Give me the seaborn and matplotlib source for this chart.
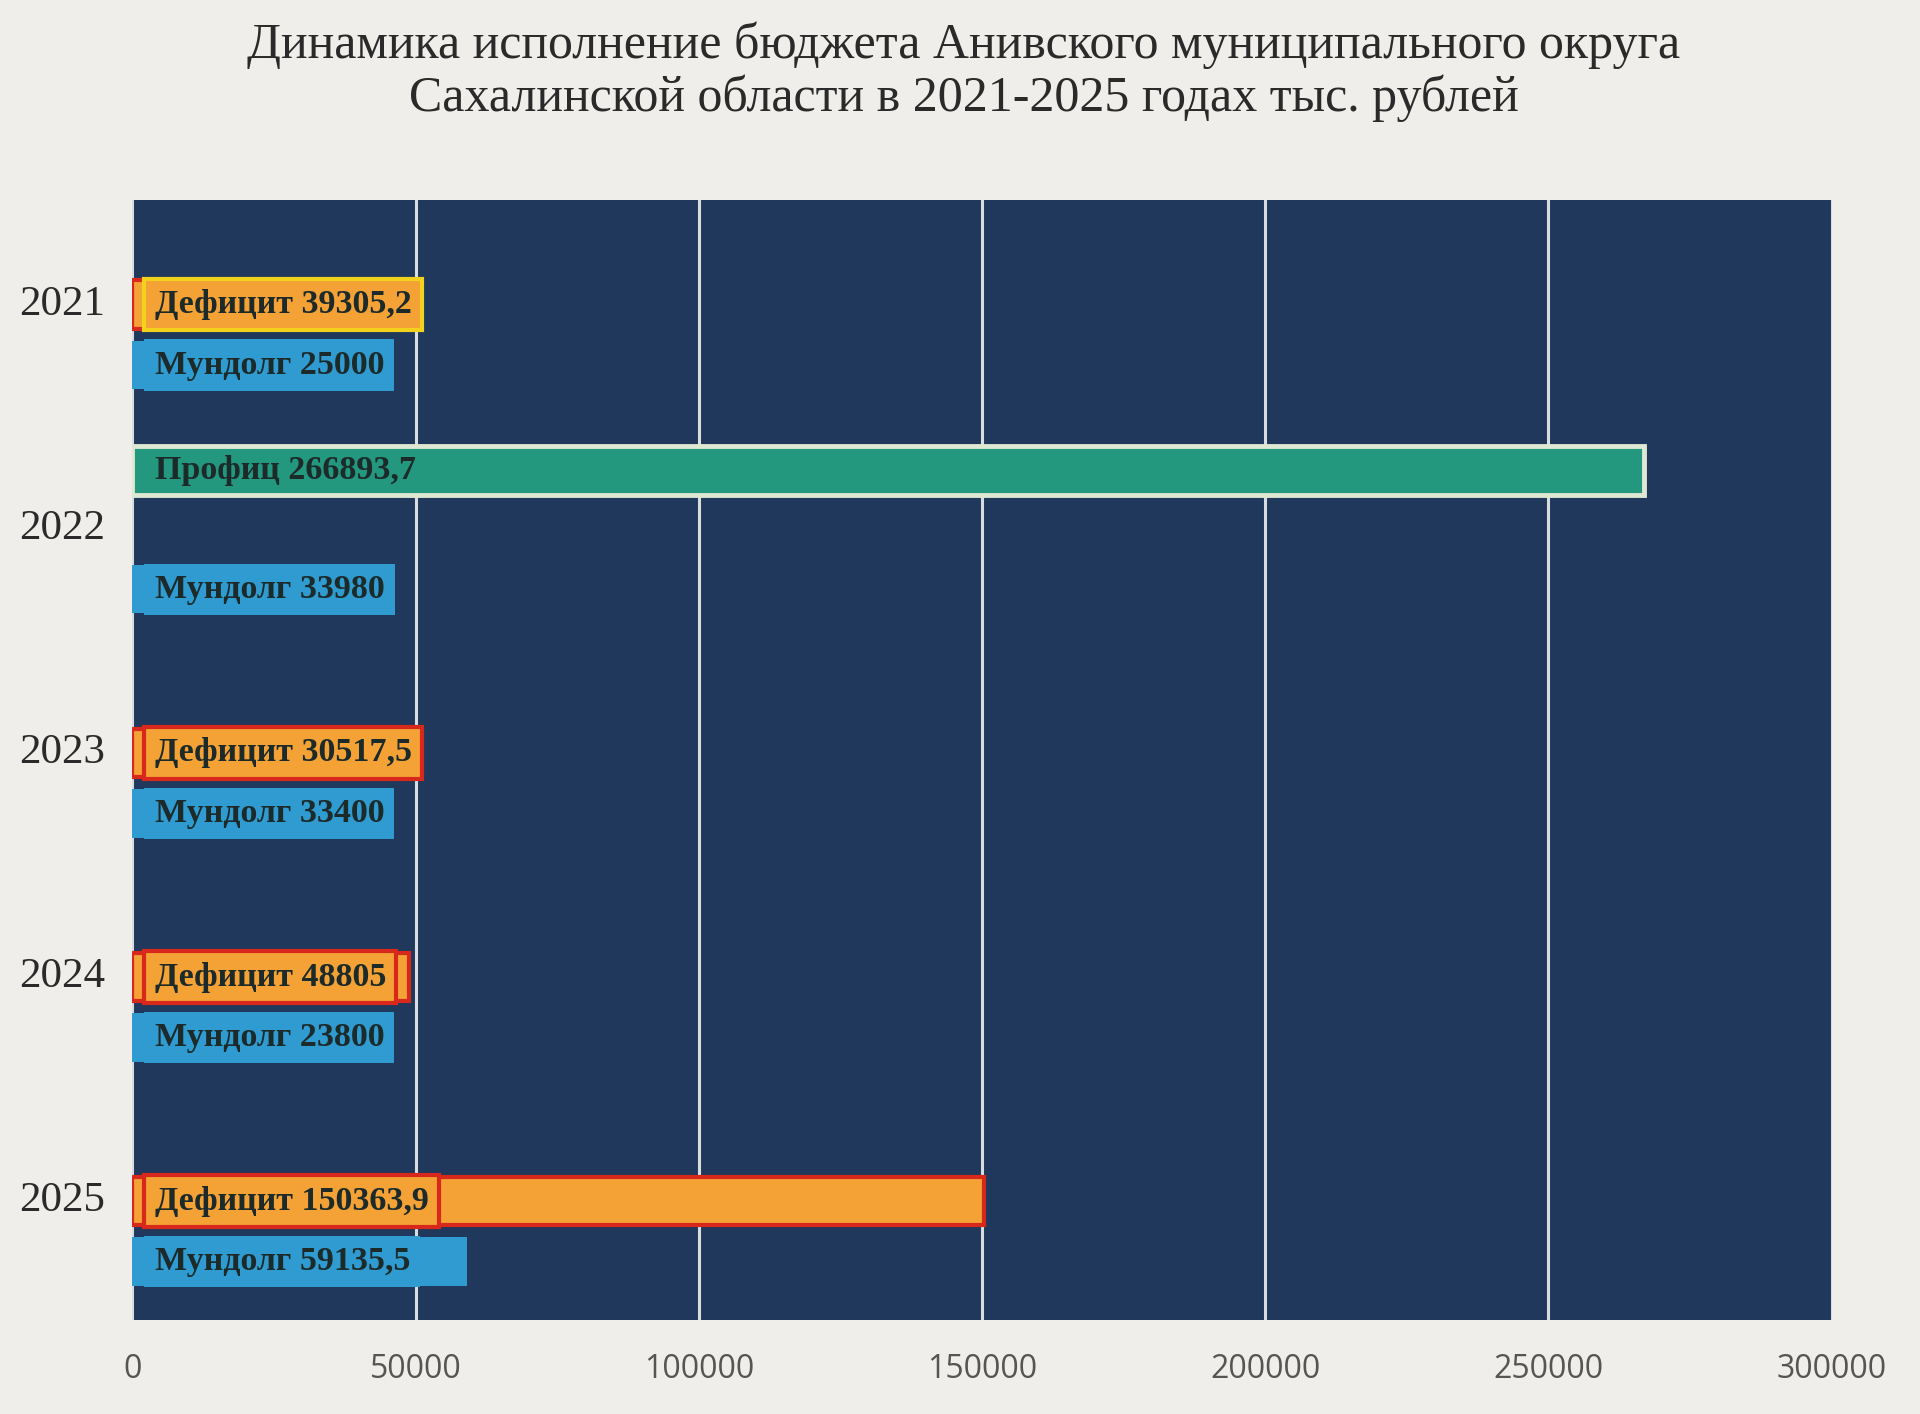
import numpy as np
import pandas as pd
import matplotlib.pyplot as plt
import seaborn as sns

# data (тыс. рублей)
years = ["2021", "2022", "2023", "2024", "2025"]
deficit = [39305.2, None, 30517.5, 48805, 150363.9]
surplus = [None, 266893.7, None, None, None]
mundolg = [25000, 33980, 33400, 23800, 59135.5]

names = {"deficit": "Дефицит", "surplus": "Профиц", "debt": "Мундолг"}

# layout / style
offsets = {"deficit": 0.02, "surplus": -0.24, "debt": 0.29}
colors = {"deficit": "#f4a236", "surplus": "#24977f", "debt": "#2f9bd0"}
NAVY = "#1f385b"
PAPER = "#efeeea"
TXT = "#1c2a2a"


def fmt(v):
    s = f"{v:.1f}".rstrip("0").rstrip(".")
    return s.replace(".", ",")


rows = []
for i, y in enumerate(years):
    for kind, series in (("deficit", deficit), ("surplus", surplus), ("debt", mundolg)):
        v = series[i]
        if v is None:
            continue
        rows.append({"year": y, "kind": kind, "value": v,
                     "pos": i + offsets[kind], "label": f"{names[kind]} {fmt(v)}"})
df = pd.DataFrame(rows)

sns.set_style("white")
fig = plt.figure(figsize=(19.2, 14.14), dpi=100, facecolor=PAPER)
ax = fig.add_axes([0.069, 0.0665, 0.885, 0.792])
ax.set_facecolor(NAVY)

sns.barplot(data=df, x="value", y="pos", hue="kind", orient="h", native_scale=True,
            dodge=False, palette=colors, saturation=1, errorbar=None, width=0.8,
            legend=False, linewidth=0, ax=ax, zorder=2)

# bar edges by kind
for p in ax.patches:
    yc = p.get_y() + p.get_height() / 2
    r = df.iloc[(df["pos"] - yc).abs().argmin()]
    if r["kind"] == "deficit":
        p.set_edgecolor("#d8281c")
        p.set_linewidth(3)
    elif r["kind"] == "surplus":
        p.set_edgecolor("#dfe8d2")
        p.set_linewidth(3.5)

# data labels with filled boxes
for _, r in df.iterrows():
    if r["kind"] == "deficit":
        ec = "#f2d21c" if r["year"] == "2021" else "#d8281c"
        bb = dict(boxstyle="square,pad=0.3", fc=colors["deficit"], ec=ec, lw=3)
    elif r["kind"] == "debt":
        bb = dict(boxstyle="square,pad=0.3", fc=colors["debt"], ec="none")
    else:
        bb = None
    ax.text(3900, r["pos"], r["label"], va="center", ha="left", fontsize=24.5,
            fontweight="bold", family="Liberation Serif", color=TXT, bbox=bb, zorder=4)

ax.set_xlim(0, 300000)
ax.set_ylim(4.55, -0.446)
ax.set_xticks(np.arange(0, 300001, 50000))
ax.set_xticklabels([str(t) for t in range(0, 300001, 50000)], family="Open Sans",
                   fontsize=23, color="#555555")
ax.set_yticks(range(len(years)))
ax.set_yticklabels(years, family="Liberation Serif", fontsize=31, color="#2a2a2a")
ax.tick_params(axis="x", length=0, pad=24)
ax.tick_params(axis="y", length=0, pad=20)
ax.xaxis.grid(True, color="#d9dde0", lw=2.2, zorder=1)
ax.yaxis.grid(False)
ax.set_axisbelow(True)
ax.set_xlabel("")
ax.set_ylabel("")
for s in ax.spines.values():
    s.set_visible(False)

fig.text(0.502, 0.9495,
         "Динамика исполнение бюджета Анивского муниципального округа\n"
         "Сахалинской области в 2021-2025 годах тыс. рублей",
         ha="center", va="center", fontsize=36, family="Liberation Serif",
         color="#2a2a2a", linespacing=1.15)

plt.savefig("out.png", dpi=100, facecolor=PAPER)
